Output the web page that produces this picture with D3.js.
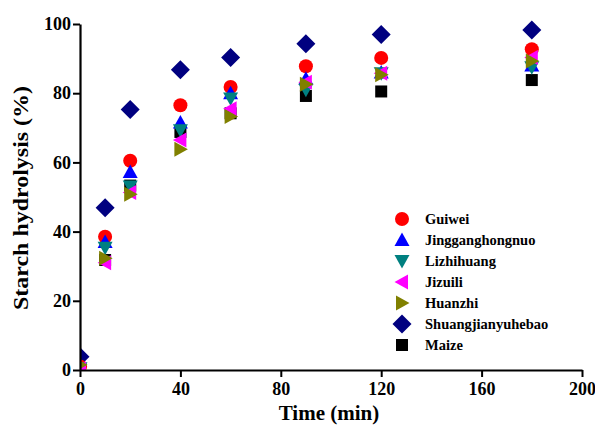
<!DOCTYPE html>
<html>
<head>
<meta charset="utf-8">
<script src="https://cdn.jsdelivr.net/npm/d3@7"></script>
<style>
  body { margin: 0; background: #fff; }
  text { font-family: "Liberation Serif", "Times New Roman", serif; font-weight: bold; }
</style>
</head>
<body>
<div id="container"></div>
<script>
/* DATA */
const times = [0, 10, 20, 40, 60, 90, 120, 180];
const names = ["Guiwei", "Jingganghongnuo", "Lizhihuang", "Jizuili", "Huanzhi", "Shuangjianyuhebao", "Maize"];
const guiwei = [1, 38.5, 60.5, 76.5, 81.8, 87.8, 90.2, 92.7];
const jingganghongnuo = [0.5, 37, 57.2, 71.5, 80, 84.2, 86, 88];
const lizhihuang = [0.5, 35.3, 53, 69.3, 78.5, 81, 85.8, 87.5];
const jizuili = [0.3, 31, 51.3, 66.5, 75.5, 83.2, 85.8, 90.3];
const huanzhi = [1.5, 32.3, 50.8, 63.8, 73.3, 82.6, 85.3, 89.3];
const shuangjianyuhebao = [3.8, 46.9, 75.3, 86.8, 90.3, 94.3, 97, 98.3];
const maize = [0.5, 31.8, 53.3, 68.8, 74.2, 79.2, 80.5, 83.8];
const xTicks = [0, 40, 80, 120, 160, 200];
const yTicks = [0, 20, 40, 60, 80, 100];

/* CONSTANTS */
const width = 595, height = 426;
const margin = {top: 24, bottom: 56, left: 80, right: 13};

const series = [
  {name: names[0], values: guiwei, color: "#ff0000", sym: "circle"},
  {name: names[1], values: jingganghongnuo, color: "#0000ff", sym: "up"},
  {name: names[2], values: lizhihuang, color: "#008080", sym: "down"},
  {name: names[3], values: jizuili, color: "#ff00ff", sym: "left"},
  {name: names[4], values: huanzhi, color: "#808000", sym: "right"},
  {name: names[5], values: shuangjianyuhebao, color: "#000080", sym: "diamond"},
  {name: names[6], values: maize, color: "#000000", sym: "square"}
];

// marker paths centred on 0,0
function markerPath(sym) {
  switch (sym) {
    case "circle": return d3.symbol(d3.symbolCircle, 155)();
    case "up": return "M0,-7.5L7.5,6L-7.5,6Z";
    case "down": return "M0,7.5L7.5,-6L-7.5,-6Z";
    case "left": return "M-7.5,0L6,-7.5L6,7.5Z";
    case "right": return "M7.5,0L-6,-7.5L-6,7.5Z";
    case "diamond": return "M0,-9.5L9.5,0L0,9.5L-9.5,0Z";
    case "square": return "M-6,-6H6V6H-6Z";
  }
}

// SCALES
const xScale = d3.scaleLinear().domain([0, 200]).range([margin.left, width - margin.right]);
const yScale = d3.scaleLinear().domain([0, 100]).range([height - margin.bottom, margin.top]);

const svg = d3.select("#container").append("svg")
  .attr("width", width)
  .attr("height", height);

svg.append("clipPath").attr("id", "plot")
  .append("rect")
  .attr("x", margin.left).attr("y", margin.top - 10)
  .attr("width", width - margin.right - margin.left + 10)
  .attr("height", height - margin.bottom - margin.top + 10);

// POINTS (maize drawn first, huanzhi on top)
const order = [6, 5, 0, 1, 2, 3, 4];
const pts = svg.append("g").attr("clip-path", "url(#plot)");
order.forEach(i => {
  const s = series[i];
  pts.selectAll(null)
    .data(times.map((t, k) => ({t, v: s.values[k]})))
    .join("path")
    .attr("d", markerPath(s.sym))
    .attr("fill", s.color)
    .attr("transform", d => `translate(${xScale(d.t)},${yScale(d.v)})`);
});

// AXES
const xAxis = svg.append("g")
  .attr("transform", `translate(0,${height - margin.bottom})`)
  .call(d3.axisBottom(xScale).tickValues(xTicks).tickSize(7).tickPadding(5).tickSizeOuter(0));
const yAxis = svg.append("g")
  .attr("transform", `translate(${margin.left},0)`)
  .call(d3.axisLeft(yScale).tickValues(yTicks).tickSize(7).tickPadding(2).tickSizeOuter(0));

[xAxis, yAxis].forEach(g => {
  g.select(".domain").attr("stroke", "#000").attr("stroke-width", 2.2);
  g.selectAll(".tick line").attr("stroke", "#000").attr("stroke-width", 2);
  g.selectAll(".tick text")
    .attr("fill", "#000")
    .style("font-size", "18px")
    .style("font-family", "'Liberation Serif', serif")
    .style("font-weight", "bold");
});

// AXIS TITLES
svg.append("text")
  .attr("x", 329)
  .attr("y", 420)
  .attr("text-anchor", "middle")
  .style("font-size", "21px")
  .text("Time (min)");

svg.append("text")
  .attr("transform", "translate(28,198) rotate(-90)")
  .attr("text-anchor", "middle")
  .attr("textLength", 224)
  .attr("lengthAdjust", "spacingAndGlyphs")
  .style("font-size", "21px")
  .text("Starch hydrolysis (%)");

// LEGEND
const legend = svg.append("g").attr("transform", "translate(402,219)");
series.forEach((s, i) => {
  const row = legend.append("g").attr("transform", `translate(0,${i * 21})`);
  row.append("path").attr("d", markerPath(s.sym)).attr("fill", s.color);
  row.append("text")
    .attr("x", 23).attr("y", 5)
    .style("font-size", "14.5px")
    .text(s.name);
});
</script>
</body>
</html>
